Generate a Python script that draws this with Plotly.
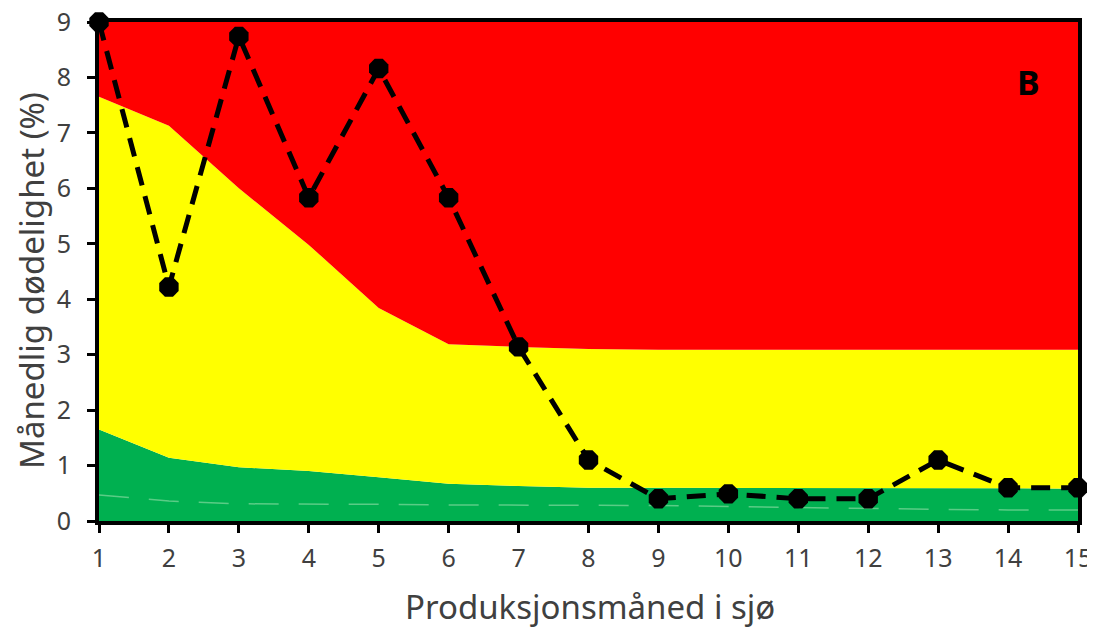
import plotly.graph_objects as go

months = list(range(1, 16))
green_top = [1.65, 1.14, 0.97, 0.90, 0.79, 0.67, 0.63, 0.60, 0.60, 0.60, 0.60, 0.60, 0.60, 0.59, 0.58]
yellow_top = [7.65, 7.13, 6.00, 4.98, 3.84, 3.19, 3.14, 3.10, 3.09, 3.09, 3.10, 3.10, 3.09, 3.09, 3.09]
red_top = [9.0] * 15
faint_line = [0.47, 0.36, 0.31, 0.31, 0.30, 0.29, 0.29, 0.29, 0.28, 0.26, 0.24, 0.22, 0.21, 0.20, 0.20]
mortality = [9.0, 4.22, 8.74, 5.83, 8.16, 5.83, 3.14, 1.10, 0.40, 0.49, 0.40, 0.40, 1.10, 0.60, 0.60]

FONT = "Noto Sans"
GREY = "#404040"

# page offset from default body margin
OFF = 8
W, H = 1095 - OFF, 628 - OFF
plot_l, plot_r, plot_t, plot_b = 99 - OFF, 1078 - OFF, 22 - OFF, 521 - OFF


def px(xp):
    return (xp - OFF - plot_l) / (plot_r - plot_l)


def py(yp):
    return (plot_b - (yp - OFF)) / (plot_b - plot_t)


fig = go.Figure()
fig.add_trace(go.Scatter(x=months, y=green_top, mode="lines", line=dict(width=0, color="#00B050"),
                         fill="tozeroy", fillcolor="#00B050", showlegend=False, hoverinfo="skip"))
fig.add_trace(go.Scatter(x=months, y=yellow_top, mode="lines", line=dict(width=0, color="#FFFF00"),
                         fill="tonexty", fillcolor="#FFFF00", showlegend=False, hoverinfo="skip"))
fig.add_trace(go.Scatter(x=months, y=red_top, mode="lines", line=dict(width=0, color="#FF0000"),
                         fill="tonexty", fillcolor="#FF0000", showlegend=False, hoverinfo="skip"))
fig.add_trace(go.Scatter(x=months, y=faint_line, mode="lines",
                         line=dict(width=1.5, color="rgba(200,240,200,0.45)", dash="30px,20px"),
                         showlegend=False, hoverinfo="skip"))
fig.add_trace(go.Scatter(x=months, y=mortality, mode="lines+markers",
                         line=dict(width=5, color="black", dash="19px,11px"),
                         marker=dict(symbol="octagon", size=21, color="black"),
                         cliponaxis=False, showlegend=False))

fig.add_annotation(x=px(1028), y=py(82), xref="paper", yref="paper", text="<b>B</b>",
                   showarrow=False, xanchor="center", yanchor="middle",
                   font=dict(family=FONT, size=34, color="black"))
fig.add_annotation(x=px(590), y=py(606), xref="paper", yref="paper", text="Produksjonsmåned i sjø",
                   showarrow=False, xanchor="center", yanchor="middle",
                   font=dict(family=FONT, size=33, color=GREY))
fig.add_annotation(x=px(31), y=py(281), xref="paper", yref="paper", text="Månedlig dødelighet (%)",
                   showarrow=False, xanchor="center", yanchor="middle", textangle=-90,
                   font=dict(family=FONT, size=33, color=GREY))

fig.update_layout(
    width=W, height=H,
    margin=dict(l=plot_l, r=W - plot_r, t=plot_t, b=H - plot_b, autoexpand=False),
    paper_bgcolor="white", plot_bgcolor="white",
    font=dict(family=FONT, color=GREY),
)
fig.update_xaxes(range=[1, 15], tickmode="array", tickvals=months, ticktext=[str(m) for m in months],
                 showline=True, linewidth=4, linecolor="black", mirror=True, automargin=False,
                 ticks="outside", ticklen=8, tickwidth=3, tickcolor="black", ticklabelstandoff=4,
                 ticklabeloverflow="allow",
                 showgrid=False, zeroline=False, tickfont=dict(size=25, color=GREY))
fig.update_yaxes(range=[0, 9], tickmode="array", tickvals=list(range(10)),
                 showline=True, linewidth=4, linecolor="black", mirror=True, automargin=False,
                 ticks="outside", ticklen=8, tickwidth=3, tickcolor="black", ticklabelstandoff=11,
                 ticklabeloverflow="allow",
                 showgrid=False, zeroline=False, tickfont=dict(size=25, color=GREY))

fig.write_html("out.html")
